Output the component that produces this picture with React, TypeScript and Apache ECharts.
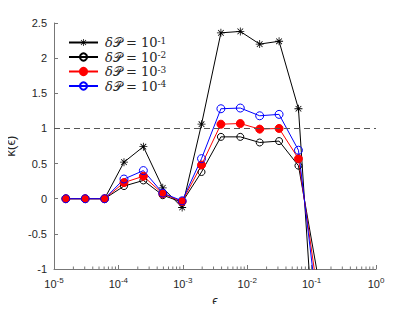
import React, { useEffect, useRef } from "react";
import * as echarts from "echarts";

// x positions: eps = 2^-16 ... 2^-3
const exponents2 = [-16, -15, -14, -13, -12, -11, -10, -9, -8, -7, -6, -5, -4, -3];
const epsValues = exponents2.map((k) => Math.pow(2, k));

const seriesNames = ["-1", "-2", "-3", "-4"];
const kappaP1 = [0, 0, 0, 0.52, 0.74, 0.155, -0.125, 1.06, 2.36, 2.38, 2.2, 2.24, 1.28, -2.9];
const kappaP2 = [0, 0, 0, 0.18, 0.26, 0.05, -0.05, 0.38, 0.88, 0.88, 0.8, 0.82, 0.47, -1.1];
const kappaP3 = [0, 0, 0, 0.23, 0.32, 0.07, -0.04, 0.48, 1.06, 1.07, 0.99, 1.0, 0.57, -1.36];
const kappaP4 = [0, 0, 0, 0.28, 0.4, 0.08, -0.03, 0.57, 1.28, 1.29, 1.18, 1.2, 0.69, -1.62];

const refLine = 1;
const minorTicks: number[] = [];
for (let d = -5; d < 0; d++) {
  for (let m = 2; m <= 9; m++) minorTicks.push(m * Math.pow(10, d));
}

const STAR =
  "path://M9,0 L11,0 L11,20 L9,20 Z M0,9 L20,9 L20,11 L0,11 Z M2.2,3.6 L3.6,2.2 L17.8,16.4 L16.4,17.8 Z M16.4,2.2 L17.8,3.6 L3.6,17.8 L2.2,16.4 Z";

const AXIS_COLOR = "#777";
const TEXT_COLOR = "#262626";
const FONT = "Liberation Sans";

export default function App() {
  const ref = useRef<HTMLDivElement>(null);
  useEffect(() => {
    if (!ref.current) return;
    const chart = echarts.init(ref.current, undefined, { renderer: "svg" });
    const mk = (vals: number[]) => epsValues.map((x, i) => [x, vals[i]]);
    const option: any = {
      animation: false,
      backgroundColor: "#fff",
      grid: { left: 54, right: 39, top: 23, bottom: 43, containLabel: false, outerBoundsMode: "none" },
      legend: {
        data: seriesNames,
        orient: "vertical",
        left: 63,
        top: 31,
        itemWidth: 29,
        itemHeight: 9,
        itemGap: 1.5,
        formatter: (name: string) => `{d|δ}{p|𝒫}{t| = 10}{s|${name}}`,
        textStyle: {
          color: TEXT_COLOR,
          padding: [0, 0, 0, 2],
          rich: {
            d: { fontFamily: "DejaVu Serif", fontStyle: "italic", fontSize: 13, color: TEXT_COLOR },
            p: { fontFamily: "DejaVu Sans", fontSize: 13, color: TEXT_COLOR },
            t: { fontFamily: "DejaVu Serif", fontSize: 13, color: TEXT_COLOR },
            s: { fontFamily: "DejaVu Serif", fontSize: 9, verticalAlign: "top", lineHeight: 9, color: TEXT_COLOR },
          },
        },
      },
      xAxis: {
        type: "log",
        logBase: 10,
        min: 1e-5,
        max: 1,
        name: "ϵ",
        nameLocation: "middle",
        nameGap: 25,
        nameTextStyle: { fontFamily: FONT, fontSize: 13, color: TEXT_COLOR },
        axisLine: { show: true, onZero: false, lineStyle: { color: AXIS_COLOR, width: 1 } },
        axisTick: { show: true, inside: true, length: 4, lineStyle: { color: AXIS_COLOR } },
        splitLine: { show: false },
        axisLabel: {
          margin: 7,
          color: TEXT_COLOR,
          formatter: (v: number) => `{b|10}{s|${Math.round(Math.log10(v))}}`,
          rich: {
            b: { fontFamily: FONT, fontSize: 11, lineHeight: 16, color: TEXT_COLOR },
            s: { fontFamily: FONT, fontSize: 8, lineHeight: 8, color: TEXT_COLOR, verticalAlign: "top" },
          },
        },
      },
      yAxis: {
        type: "value",
        min: -1,
        max: 2.5,
        interval: 0.5,
        name: "κ(ϵ)",
        nameLocation: "middle",
        nameGap: 33,
        nameRotate: 90,
        nameTextStyle: { fontFamily: FONT, fontSize: 13, color: TEXT_COLOR },
        axisLine: { show: true, onZero: false, lineStyle: { color: AXIS_COLOR, width: 1 } },
        axisTick: { show: true, inside: true, length: 4, lineStyle: { color: AXIS_COLOR } },
        splitLine: { show: false },
        axisLabel: { fontFamily: FONT, fontSize: 11, color: TEXT_COLOR, margin: 7 },
      },
      series: [
        {
          type: "custom",
          coordinateSystem: "cartesian2d",
          silent: true,
          clip: false,
          data: minorTicks.map((v) => [v, -1]),
          renderItem: (_p: any, api: any) => {
            const p = api.coord([api.value(0), api.value(1)]);
            return {
              type: "line",
              shape: { x1: p[0], y1: p[1], x2: p[0], y2: p[1] - 2.5 },
              style: { stroke: AXIS_COLOR, lineWidth: 1 },
            };
          },
        },
        {
          name: seriesNames[0],
          type: "line",
          data: mk(kappaP1),
          symbol: STAR,
          symbolSize: 8,
          lineStyle: { color: "#000", width: 1 },
          itemStyle: { color: "#000" },
          clip: true,
          markLine: {
            silent: true,
            symbol: ["none", "none"],
            label: { show: false },
            lineStyle: { color: "#555", type: [6, 4], width: 1 },
            data: [{ yAxis: refLine }],
          },
        },
        {
          name: seriesNames[1],
          type: "line",
          data: mk(kappaP2),
          symbol: "circle",
          symbolSize: 7,
          lineStyle: { color: "#000", width: 1 },
          itemStyle: { color: "rgba(0,0,0,0)", borderColor: "#000", borderWidth: 1 },
          clip: true,
        },
        {
          name: seriesNames[2],
          type: "line",
          data: mk(kappaP3),
          symbol: "circle",
          symbolSize: 8,
          lineStyle: { color: "#f00", width: 1 },
          itemStyle: { color: "#f00", borderColor: "#f00", borderWidth: 1 },
          clip: true,
        },
        {
          name: seriesNames[3],
          type: "line",
          data: mk(kappaP4),
          symbol: "circle",
          symbolSize: 8,
          lineStyle: { color: "#00f", width: 1 },
          itemStyle: { color: "rgba(0,0,0,0)", borderColor: "#00f", borderWidth: 1 },
          clip: true,
        },
      ],
    };
    chart.setOption(option);
    return () => chart.dispose();
  }, []);
  return <div ref={ref} style={{ width: 415, height: 312, margin: -8 }} />;
}
